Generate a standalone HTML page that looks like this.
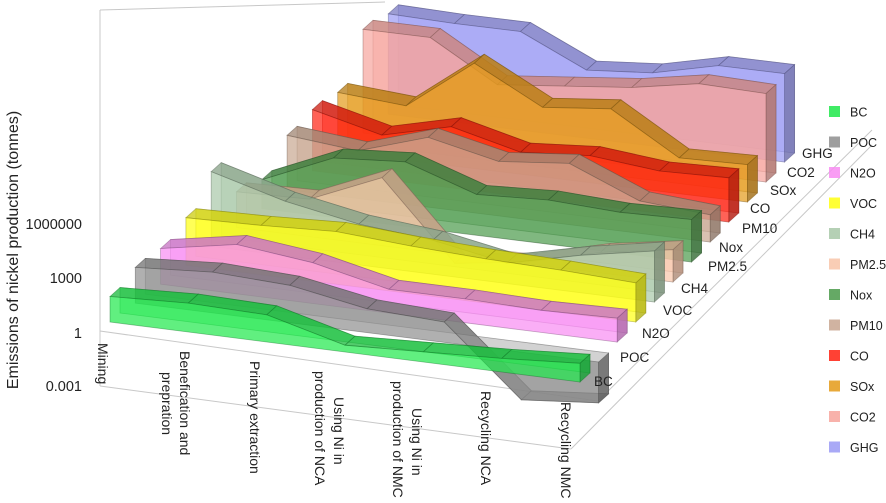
<!DOCTYPE html>
<html><head><meta charset="utf-8"><style>
html,body{margin:0;padding:0;background:#fff;}
svg{display:block;font-family:"Liberation Sans",sans-serif;}
</style></head><body>
<svg id="chart" width="886" height="503" viewBox="0 0 886 503" xmlns="http://www.w3.org/2000/svg">
<g id="frame" stroke="#c8c8c8" stroke-width="1" fill="none">
  <line x1="100" y1="10" x2="100" y2="386"/>
  <line x1="100" y1="10" x2="385" y2="2"/>
  <line x1="100" y1="331" x2="598" y2="401"/>
  <line x1="100" y1="386" x2="571" y2="449"/>
  <line x1="598" y1="401" x2="872" y2="130"/>
  <line x1="571" y1="449" x2="872" y2="145"/>
</g>
<g id="series"></g>
<g id="axis" font-size="14.5" fill="#222" text-anchor="end">
  <text x="82" y="229">1000000</text>
  <text x="82" y="283">1000</text>
  <text x="82" y="338">1</text>
  <text x="82" y="391">0.001</text>
</g>
<text transform="rotate(-90 14 250)" x="14" y="250" font-size="16" fill="#222" text-anchor="middle" dominant-baseline="middle">Emissions of nickel production (tonnes)</text>
<g id="cats" font-size="14" fill="#222"></g>
<g id="lanes" font-size="13.5" fill="#222"></g>
<g id="legend" font-size="12.5" fill="#222"></g>
</svg>
<script>
const categories = ["Mining","Benefication and prepration","Primary extraction","Using Ni in production of NCA","Using Ni in production of NMC","Recycling NCA","Recycling NMC"];
const seriesNames = ["BC","POC","N2O","VOC","CH4","PM2.5","Nox","PM10","CO","SOx","CO2","GHG"];
const seriesColors = ["#1ee84a","#8e8e8e","#f88cf2","#ffff10","#a8c8a8","#f8c4a8","#4a9a4a","#c8a690","#ff2010","#e49a18","#f7a49c","#9a9af4"];
// values as log10(tonnes)
const BC    = [1.5,1.7,1.6,0.4,0.6,0.8,1.1];
const POC   = [2.1,2.4,2.2,1.4,1.2,-2.8,-2.4];
const N2O   = [2.1,2.9,2.4,1.4,1.4,1.3,1.4];
const VOC   = [2.8,2.9,3.1,2.8,2.6,2.5,2.3];
const CH4   = [4.4,3.2,2.4,2.0,1.2,2.2,3.0];
const PM25  = [2.1,2.2,4.0,-0.5,0.1,1.2,1.9];
const NOX   = [1.7,3.5,3.8,2.4,2.6,2.4,2.5];
const PM10  = [3.2,2.8,4.1,3.2,3.6,1.9,1.6];
const CO    = [3.6,2.6,3.6,2.6,2.9,2.5,2.6];
const SOX   = [3.5,3.2,6.2,4.1,4.5,2.1,2.2];
const CO2   = [6.1,6.1,3.8,4.2,4.6,5.3,5.2];
const GHG   = [5.9,5.8,5.8,4.0,4.3,5.2,5.2];
const seriesValues = [BC,POC,N2O,VOC,CH4,PM25,NOX,PM10,CO,SOX,CO2,GHG];

const NS="http://www.w3.org/2000/svg";
const nL = seriesNames.length, nC = categories.length;
function laneX0(i){return 110+25.3*i;}
function laneX1(i){return 580+18.6*i;}
function baseL(i){return 322-18.9*i;}
function baseR(i){return 382-20*i;}
function xPos(i,j){return laneX0(i)+(laneX1(i)-laneX0(i))*j/(nC-1);}
function yBase(i,j){return baseL(i)+(baseR(i)-baseL(i))*j/(nC-1);}
function yVal(i,j,v){return yBase(i,j)-v*17;}
const DX=10, DY=-9;
function poly(pts,fill,stroke,op){
  const p=document.createElementNS(NS,'polygon');
  p.setAttribute('points',pts.map(q=>q[0].toFixed(1)+','+q[1].toFixed(1)).join(' '));
  p.setAttribute('fill',fill);p.setAttribute('fill-opacity',op);
  p.setAttribute('stroke',stroke);p.setAttribute('stroke-opacity','0.45');p.setAttribute('stroke-width','0.8');
  return p;
}
function shade(hex,f){
  const n=parseInt(hex.slice(1),16);
  const r=Math.round(((n>>16)&255)*f),g=Math.round(((n>>8)&255)*f),b=Math.round((n&255)*f);
  return 'rgb('+r+','+g+','+b+')';
}
const sg=document.getElementById('series');
for(let i=nL-1;i>=0;i--){
  const vals=seriesValues[i], col=seriesColors[i];
  const g=document.createElementNS(NS,'g');
  
  
  const top=[],base=[];
  for(let j=0;j<nC;j++){top.push([xPos(i,j),yVal(i,j,vals[j])]);base.push([xPos(i,j),yBase(i,j)]);}
  const back=top.map(q=>[q[0]+DX,q[1]+DY]).concat(base.slice().reverse().map(q=>[q[0]+DX,q[1]+DY]));
  const bf=poly(back,col,shade(col,0.5),0.4);
  
  g.appendChild(bf);
  for(let j=0;j<nC-1;j++){
    const a=top[j],b=top[j+1];
    const tf=poly([a,b,[b[0]+DX,b[1]+DY],[a[0]+DX,a[1]+DY]],shade(col,0.8),shade(col,0.5),0.75);
    
    g.appendChild(tf);
  }
  const e1=top[nC-1],e2=base[nC-1];
  const ef=poly([e1,[e1[0]+DX,e1[1]+DY],[e2[0]+DX,e2[1]+DY],e2],shade(col,0.7),shade(col,0.5),0.8);
  
  g.appendChild(ef);
  const ff=poly(top.concat(base.slice().reverse()),col,shade(col,0.5),0.7);
  
  g.appendChild(ff);
  sg.appendChild(g);
}
const catLines=[[["Mining",95,343]],[["Benefication and",177,351],["prepration",159,372]],[["Primary extraction",247,361]],[["Using Ni in",331,397],["production of NCA",312,371]],[["Using Ni in",409,408],["production of NMC",390,381]],[["Recycling NCA",478,391]],[["Recycling NMC",558,402]]];
const cg=document.getElementById('cats');
catLines.forEach((lines,k)=>{
  lines.forEach((ln,m)=>{
    const t=document.createElementNS(NS,'text');
    
    
    t.setAttribute('x',ln[1]+3);t.setAttribute('y',ln[2]);
    t.setAttribute('transform','rotate(90 '+(ln[1]+3)+' '+ln[2]+')');
    t.textContent=ln[0];
    cg.appendChild(t);
  });
});
const laneLabelX=[594,620,642,663,681,708,719,742,750,770,787,802];
const laneLabelY=[386,362,338,315,293,271,252,233,213,195,177,158];
const lg=document.getElementById('lanes');
seriesNames.forEach((n,i)=>{
  const t=document.createElementNS(NS,'text');
  
  
  t.setAttribute('x',laneLabelX[i]);t.setAttribute('y',laneLabelY[i]);
  t.textContent=n;lg.appendChild(t);
});
const leg=document.getElementById('legend');
seriesNames.forEach((n,i)=>{
  const y=112+30.5*i;
  const r=document.createElementNS(NS,'rect');
  
  
  r.setAttribute('x',829);r.setAttribute('y',y-6);r.setAttribute('width',11);r.setAttribute('height',11);
  r.setAttribute('fill',seriesColors[i]);r.setAttribute('fill-opacity','0.85');
  leg.appendChild(r);
  const t=document.createElementNS(NS,'text');
  
  
  t.setAttribute('x',850);t.setAttribute('y',y+4.5);t.textContent=n;leg.appendChild(t);
});
</script>
</body></html>
